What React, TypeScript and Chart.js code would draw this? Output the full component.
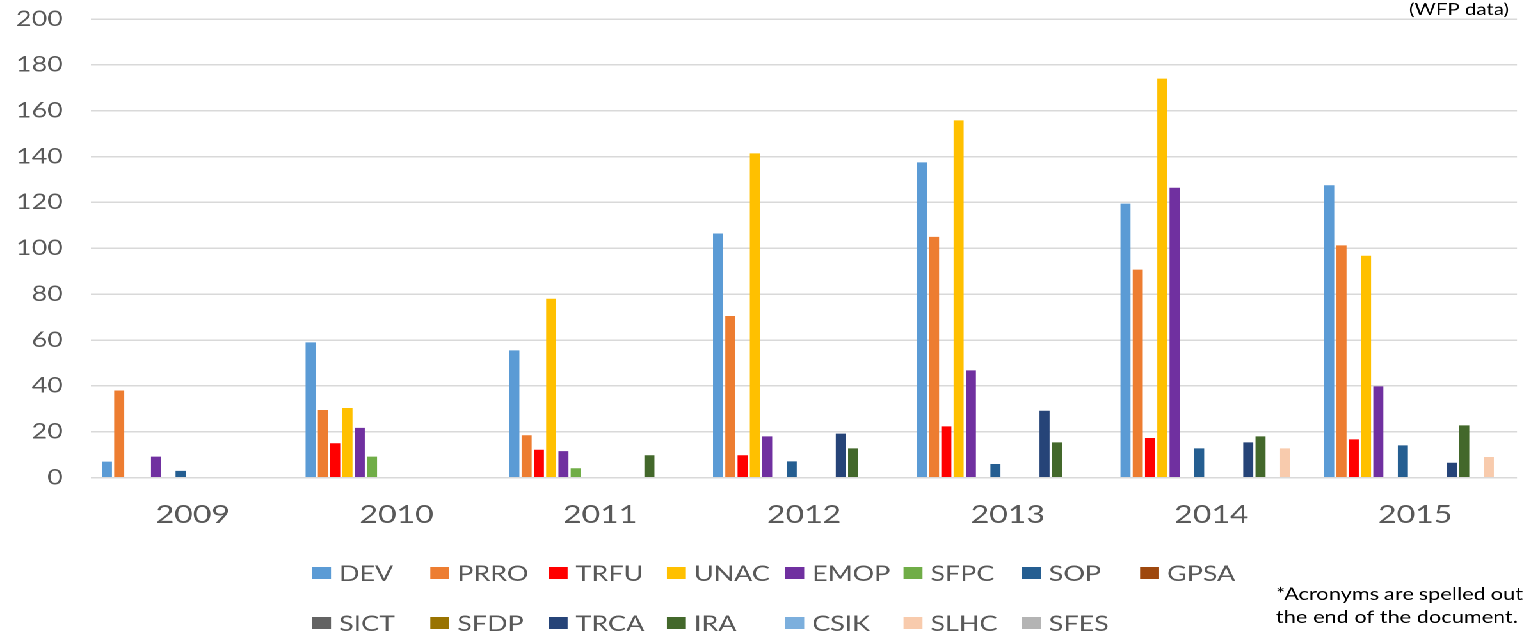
import React, { useEffect, useRef } from 'react';
import { Chart, registerables } from 'chart.js';

Chart.register(...registerables);

// ---------- data ----------
const years = ['2009', '2010', '2011', '2012', '2013', '2014', '2015'];

const DEV = [7, 59, 55.5, 106.5, 137.5, 119.5, 127.5];
const PRRO = [38, 29.5, 18.5, 70.5, 105, 90.7, 101.3];
const TRFU = [0, 15, 12.2, 9.8, 22.4, 17.3, 16.7];
const UNAC = [0, 30.4, 78, 141.4, 155.8, 174, 96.8];
const EMOP = [9.2, 21.7, 11.6, 18, 46.8, 126.4, 39.8];
const SFPC = [0, 9.2, 4.1, 0, 0, 0, 0];
const SOP = [3, 0, 0, 7.1, 6, 12.8, 14.1];
const GPSA = [0, 0, 0, 0, 0, 0, 0];
const SICT = [0, 0, 0, 0, 0, 0, 0];
const SFDP = [0, 0, 0, 0, 0, 0, 0];
const TRCA = [0, 0, 0, 19.2, 29.2, 15.4, 6.5];
const IRA = [0, 0, 9.8, 12.8, 15.4, 18, 22.8];
const CSIK = [0, 0, 0, 0, 0, 0, 0];
const SLHC = [0, 0, 0, 0, 0, 12.8, 9];
const SFES = [0, 0, 0, 0, 0, 0, 0];

const seriesNames = ['DEV', 'PRRO', 'TRFU', 'UNAC', 'EMOP', 'SFPC', 'SOP', 'GPSA', 'SICT', 'SFDP', 'TRCA', 'IRA', 'CSIK', 'SLHC', 'SFES'];
const seriesValues = [DEV, PRRO, TRFU, UNAC, EMOP, SFPC, SOP, GPSA, SICT, SFDP, TRCA, IRA, CSIK, SLHC, SFES];
const seriesColors = ['#5B9BD5', '#ED7D31', '#FF0000', '#FFC000', '#7030A0', '#70AD47', '#255E91', '#9E480E', '#636363', '#997300', '#264478', '#43682B', '#7CAFDD', '#F8CBAD', '#B4B4B4'];

const yMin = 0;
const yMax = 200;
const yStep = 20;

const sourceNote = '(WFP data)';
const noteLine1 = ['*Acronyms', 'are', 'spelled', 'out'];
const noteLine2 = 'the end of the document.';

// ---------- layout ----------
const FULL_W = 1531;
const FULL_H = 641;
const S = 1.28; // horizontal stretch
const W = Math.round(FULL_W / S);
const SX = FULL_W / W;

const TXT = '#595959';
const FONT = 'Lato, "Open Sans", sans-serif';

const overlayPlugin = {
  id: 'overlay',
  afterDraw(chart: any) {
    const ctx = chart.ctx as CanvasRenderingContext2D;
    ctx.save();
    // legend grid
    const colStart = 312 / SX;
    const colStep = 118.3 / SX;
    const rows = [573, 623];
    ctx.font = `21px ${FONT}`;
    ctx.textBaseline = 'middle';
    ctx.textAlign = 'left';
    chart.data.datasets.forEach((ds: any, i: number) => {
      const row = Math.floor(i / 8);
      const col = i % 8;
      const x = colStart + col * colStep;
      const y = rows[row];
      ctx.fillStyle = ds.backgroundColor;
      ctx.fillRect(x, y - 6, 19 / SX, 12);
      ctx.fillStyle = TXT;
      ctx.fillText(ds.label, x + 27 / SX, y + 1);
    });

    // source note
    ctx.fillStyle = '#000000';
    ctx.font = `16px ${FONT}`;
    ctx.textAlign = 'right';
    ctx.textBaseline = 'alphabetic';
    ctx.fillText(sourceNote, 1509 / SX, 15);

    // footnote (justified)
    ctx.font = `17px ${FONT}`;
    ctx.textAlign = 'left';
    const x0 = 1276 / SX;
    const x1 = 1523 / SX;
    const widths = noteLine1.map((w) => ctx.measureText(w).width);
    const total = widths.reduce((a, b) => a + b, 0);
    const gap = Math.max(3, (x1 - x0 - total) / (noteLine1.length - 1));
    let cx = x0;
    noteLine1.forEach((w, i) => {
      ctx.fillText(w, cx, 600);
      cx += widths[i] + gap;
    });
    ctx.fillText(noteLine2, x0, 623);
    ctx.restore();
  },
};

export default function App() {
  const ref = useRef<HTMLCanvasElement | null>(null);

  useEffect(() => {
    if (!ref.current) return;
    const chart = new Chart(ref.current, {
      type: 'bar',
      data: {
        labels: years,
        datasets: seriesNames.map((name, i) => ({
          label: name,
          data: seriesValues[i],
          backgroundColor: seriesColors[i],
          borderWidth: 0,
          categoryPercentage: 0.904,
          barPercentage: 0.82,
        })),
      },
      options: {
        animation: false,
        responsive: false,
        devicePixelRatio: 2,
        layout: { padding: { top: 19, right: W - 1517 / SX, left: 0, bottom: 0 } },
        plugins: {
          legend: { display: false },
          tooltip: { enabled: false },
          title: { display: false },
        },
        scales: {
          x: {
            grid: { display: false, drawTicks: false },
            border: { display: false },
            ticks: {
              color: TXT,
              font: { family: FONT, size: 25 },
              padding: 22,
              maxRotation: 0,
            },
            afterFit(s: any) {
              s.height = 163.3;
            },
          },
          y: {
            min: yMin,
            max: yMax,
            ticks: {
              stepSize: yStep,
              color: TXT,
              font: { family: FONT, size: 21 },
              padding: 22,
            },
            grid: { color: '#D9D9D9', lineWidth: 1.5, drawTicks: false },
            border: { display: false },
            afterFit(s: any) {
              s.width = 91 / SX;
              s.paddingTop = 0;
              s.paddingBottom = 0;
            },
          },
        },
      },
      plugins: [overlayPlugin],
    });
    return () => chart.destroy();
  }, []);

  return (
    <div
      style={{
        position: 'fixed',
        left: 0,
        top: 0,
        width: W,
        height: FULL_H,
        transform: `scaleX(${SX})`,
        transformOrigin: '0 0',
        background: '#fff',
      }}
    >
      <canvas ref={ref} width={W} height={FULL_H} />
    </div>
  );
}
